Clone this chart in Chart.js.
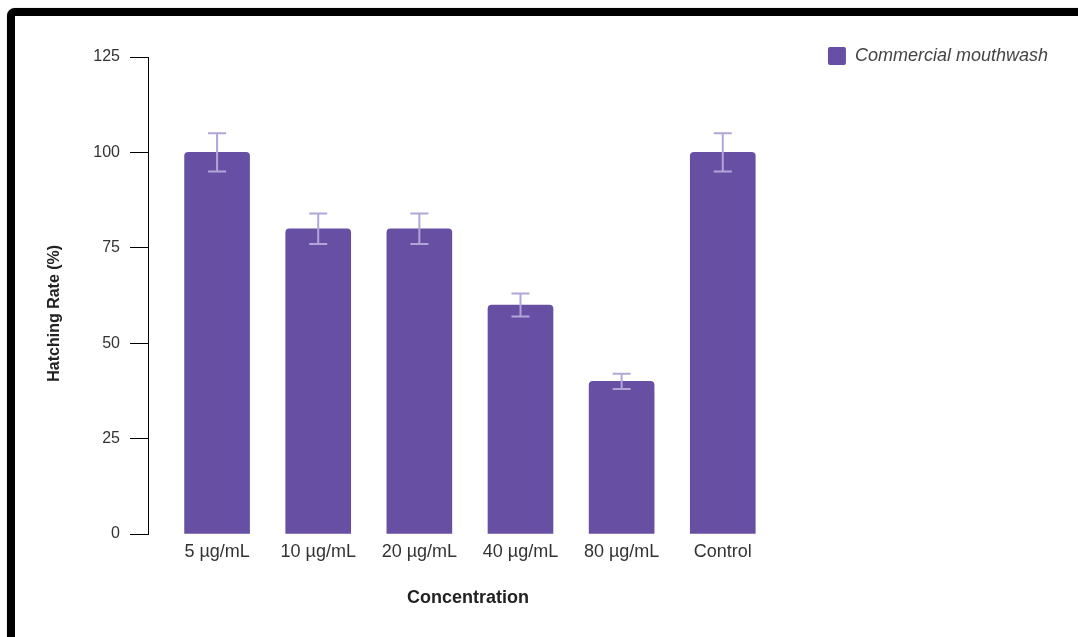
<!DOCTYPE html>
<html>
<head>
<meta charset="utf-8">
<title>Hatching Rate by Concentration</title>
<script src="https://cdn.jsdelivr.net/npm/chart.js@4.4.1/dist/chart.umd.min.js"></script>
<style>
  html, body { margin: 0; padding: 0; background: #fff; overflow: hidden; }
  .frame {
    position: absolute; left: 7px; top: 8px;
    width: 1100px; height: 680px;
    border: 8px solid #000; border-radius: 8px;
    box-shadow: 0 0 1px rgba(0,0,0,0.5);
    background: #fff;
  }
  #chart { position: absolute; left: 0; top: 0; }
</style>
</head>
<body>
<div class="frame"></div>
<canvas id="chart" width="1078" height="637"></canvas>
<script>
// Concentration groups along the x axis
const concentrations = ['5 µg/mL', '10 µg/mL', '20 µg/mL', '40 µg/mL', '80 µg/mL', 'Control'];
// Mean hatching rate (%) per group
const hatchingRate = [100, 80, 80, 60, 40, 100];
// Error (±) per group
const hatchingError = [5, 4, 4, 3, 2, 5];
// Y axis tick values
const rateTicks = [0, 25, 50, 75, 100, 125];
const seriesName = 'Commercial mouthwash';

const barColor = '#6750a4';
const errorColor = '#b2a5d8';

// Draws the ± error whiskers on top of each bar
const errorBars = {
  id: 'errorBars',
  afterDatasetsDraw(chart) {
    const { ctx, scales: { y } } = chart;
    const meta = chart.getDatasetMeta(0);
    ctx.save();
    ctx.strokeStyle = errorColor;
    ctx.lineWidth = 2;
    meta.data.forEach((bar, i) => {
      const x = bar.x;
      const top = y.getPixelForValue(hatchingRate[i] + hatchingError[i]);
      const bottom = y.getPixelForValue(hatchingRate[i] - hatchingError[i]);
      const half = 9;
      ctx.beginPath();
      ctx.moveTo(x, top); ctx.lineTo(x, bottom);
      ctx.moveTo(x - half, top); ctx.lineTo(x + half, top);
      ctx.moveTo(x - half, bottom); ctx.lineTo(x + half, bottom);
      ctx.stroke();
    });
    ctx.restore();
  }
};

new Chart(document.getElementById('chart'), {
  type: 'bar',
  data: {
    datasets: [{
      label: seriesName,
      data: concentrations.map((c, i) => ({ x: i, y: hatchingRate[i] })),
      backgroundColor: barColor,
      borderRadius: 4,
      barThickness: 65
    }]
  },
  options: {
    responsive: false,
    devicePixelRatio: 1,
    animation: false,
    layout: { padding: { left: 15, top: 37, right: 20, bottom: 28.2 } },
    plugins: {
      title: { display: true, text: '', padding: 0, font: { size: 20, lineHeight: 1 } },
      tooltip: { enabled: false },
      legend: {
        position: 'right',
        align: 'start',
        labels: {
          boxWidth: 18,
          boxHeight: 18,
          padding: 10,
          color: '#444',
          useBorderRadius: true,
          borderRadius: 2,
          font: { family: 'Liberation Sans, Arial, sans-serif', size: 18, style: 'italic' }
        }
      }
    },
    scales: {
      x: {
        type: 'linear',
        offset: false,
        min: -0.683,
        max: 5.941,
        grid: { display: false, drawTicks: false, tickLength: 0 },
        border: { display: false },
        ticks: {
          stepSize: 1,
          includeBounds: false,
          autoSkip: false,
          maxRotation: 0,
          padding: 7,
          color: '#333',
          font: { family: 'Liberation Sans, Arial, sans-serif', size: 18 },
          callback: (v) => concentrations[v] ?? ''
        },
        title: {
          display: true,
          text: 'Concentration      ',
          color: '#222',
          padding: { top: 17.6, bottom: 0 },
          font: { family: 'Liberation Sans, Arial, sans-serif', size: 18, weight: 'bold' }
        }
      },
      y: {
        min: rateTicks[0],
        max: rateTicks[rateTicks.length - 1],
        afterFit: (scale) => { scale.width = 133; },
        grid: { drawOnChartArea: false, tickLength: 18, color: '#000', lineWidth: 1 },
        border: { display: true, color: '#000', width: 1 },
        ticks: {
          stepSize: rateTicks[1] - rateTicks[0],
          padding: 10,
          color: '#333',
          font: { family: 'Liberation Sans, Arial, sans-serif', size: 16 }
        },
        title: {
          display: true,
          text: 'Hatching Rate (%)        ',
          color: '#222',
          padding: { top: 30.4, bottom: 0 },
          font: { family: 'Liberation Sans, Arial, sans-serif', size: 16, weight: 'bold' }
        }
      }
    }
  },
  plugins: [errorBars]
});
</script>
</body>
</html>
